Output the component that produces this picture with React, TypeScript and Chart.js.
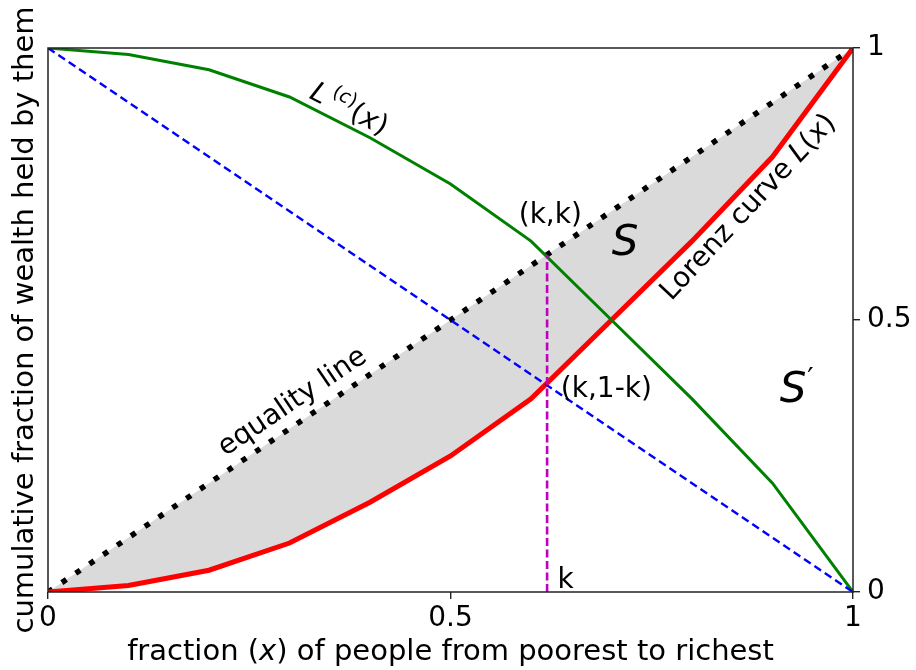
import React, { useEffect, useRef } from 'react';
import { Chart, registerables } from 'chart.js';

Chart.register(...registerables);

// ---- data ----
const xValues = [0, 0.1, 0.2, 0.3, 0.4, 0.5, 0.6, 0.7, 0.8, 0.9, 1];
const lorenzValues = [0, 0.012, 0.04, 0.09, 0.165, 0.25, 0.355, 0.5, 0.645, 0.8, 1];
const complementValues = [1, 0.988, 0.96, 0.91, 0.835, 0.75, 0.645, 0.5, 0.355, 0.2, 0];
const equalityValues = [0, 0.1, 0.2, 0.3, 0.4, 0.5, 0.6, 0.7, 0.8, 0.9, 1];
const antiDiagX = [0, 1];
const antiDiagY = [1, 0];
const kValue = 0.62;
const kLineY = [0, 0.62];
const tickValues = [0, 0.5, 1];
const tickLabels = ['0', '0.5', '1'];

const FONT = '"DejaVu Sans", "Liberation Sans", sans-serif';
const f = (size: number, style = '') => `${style} ${size}px ${FONT}`.trim();

type Seg = { t: string; f: string; dy?: number; gap?: number };

function drawRich(
  ctx: CanvasRenderingContext2D,
  segs: Seg[],
  cx: number,
  cy: number,
  angleDeg: number,
  yOff: number,
  align: 'center' | 'left' = 'center'
) {
  ctx.save();
  ctx.translate(cx, cy);
  ctx.rotate((angleDeg * Math.PI) / 180);
  ctx.textBaseline = 'alphabetic';
  ctx.textAlign = 'left';
  ctx.fillStyle = '#000';
  const widths = segs.map((s) => {
    ctx.font = s.f;
    return ctx.measureText(s.t).width + (s.gap || 0);
  });
  const total = widths.reduce((a, b) => a + b, 0);
  let xx = align === 'center' ? -total / 2 : 0;
  segs.forEach((s, i) => {
    ctx.font = s.f;
    ctx.fillText(s.t, xx, yOff + (s.dy || 0));
    xx += widths[i];
  });
  ctx.restore();
}

const annotPlugin = {
  id: 'annot',
  afterDatasetsDraw(chart: any) {
    const { ctx, chartArea: a } = chart;
    const x = chart.scales.x;
    const y = chart.scales.y;
    const px = (v: number) => x.getPixelForValue(v);
    const py = (v: number) => y.getPixelForValue(v);

    // frame
    ctx.save();
    ctx.strokeStyle = '#222';
    ctx.lineWidth = 1.5;
    ctx.strokeRect(a.left, a.top, a.right - a.left, a.bottom - a.top);
    ctx.restore();

    const T = 28;
    // L^(c)(x)
    drawRich(
      ctx,
      [
        { t: 'L', f: f(T, 'italic'), gap: 4 },
        { t: '(', f: f(19), dy: -12 },
        { t: 'c', f: f(19, 'italic'), dy: -12 },
        { t: ')', f: f(19), dy: -12 },
        { t: '(', f: f(T) },
        { t: 'x', f: f(T, 'italic') },
        { t: ')', f: f(T) },
      ],
      px(0.375),
      py(0.89),
      27,
      10
    );
    // (k,k)
    drawRich(ctx, [{ t: '(k,k)', f: f(T) }], px(0.624), py(0.697), 0, 10);
    // S
    drawRich(ctx, [{ t: 'S', f: f(42, 'italic') }], px(0.717), py(0.647), 0, 15);
    // Lorenz curve L(x)
    drawRich(
      ctx,
      [
        { t: 'Lorenz curve ', f: f(T) },
        { t: 'L', f: f(T, 'italic') },
        { t: '(', f: f(T) },
        { t: 'x', f: f(T, 'italic') },
        { t: ')', f: f(T) },
      ],
      px(0.868),
      py(0.71),
      -47,
      10
    );
    // equality line
    drawRich(ctx, [{ t: 'equality line', f: f(T) }], px(0.302), py(0.353), -34, 10);
    // (k,1-k)
    drawRich(ctx, [{ t: '(k,1-k)', f: f(T) }], px(0.637), py(0.377), 0, 10, 'left');
    // S'
    drawRich(
      ctx,
      [
        { t: 'S', f: f(42, 'italic'), gap: 1 },
        { t: '\u2032', f: f(28), dy: -14 },
      ],
      px(0.93),
      py(0.377),
      0,
      15
    );
    // k
    drawRich(ctx, [{ t: 'k', f: f(T) }], px(0.643), py(0.026), 0, 10);
  },
  afterDraw(chart: any) {
    const { ctx, chartArea: a } = chart;
    const T = 29;
    drawRich(
      ctx,
      [
        { t: 'fraction (', f: f(T) },
        { t: 'x', f: f(T, 'italic') },
        { t: ') of people from poorest to richest', f: f(T) },
      ],
      (a.left + a.right) / 2,
      660,
      0,
      0
    );
    drawRich(
      ctx,
      [{ t: 'cumulative fraction of wealth held by them', f: f(T) }],
      33,
      (a.top + a.bottom) / 2,
      -90,
      0
    );
  },
};

const pts = (xs: number[], ys: number[]) => xs.map((v, i) => ({ x: v, y: ys[i] }));

export default function App() {
  const ref = useRef<HTMLCanvasElement | null>(null);

  useEffect(() => {
    if (!ref.current) return;
    const tickFont = { family: FONT, size: 28 };
    const chart = new Chart(ref.current, {
      type: 'line',
      data: {
        datasets: [
          {
            label: 'equality',
            data: pts(xValues, equalityValues),
            borderColor: '#000',
            borderWidth: 5.5,
            borderDash: [5.5, 11.2],
            borderCapStyle: 'butt',
            pointRadius: 0,
            fill: false,
            tension: 0,
            order: 5,
          },
          {
            label: 'lorenz',
            data: pts(xValues, lorenzValues),
            borderColor: '#ff0000',
            borderWidth: 5,
            backgroundColor: '#dadada',
            pointRadius: 0,
            fill: 0,
            tension: 0,
            order: 4,
          },
          {
            label: 'complement',
            data: pts(xValues, complementValues),
            borderColor: '#008000',
            borderWidth: 3,
            pointRadius: 0,
            fill: false,
            tension: 0,
            order: 3,
          },
          {
            label: 'antidiag',
            data: pts(antiDiagX, antiDiagY),
            borderColor: '#0000ff',
            borderWidth: 2.4,
            borderDash: [8, 4.5],
            pointRadius: 0,
            fill: false,
            tension: 0,
            order: 2,
          },
          {
            label: 'k',
            data: pts([kValue, kValue], kLineY),
            borderColor: '#bf00bf',
            borderWidth: 2.6,
            borderDash: [8, 3.5],
            pointRadius: 0,
            fill: false,
            tension: 0,
            order: 1,
          },
        ],
      },
      options: {
        responsive: false,
        animation: false,
        devicePixelRatio: 1,
        layout: { padding: 0 },
        plugins: {
          legend: { display: false },
          tooltip: { enabled: false },
          filler: { drawTime: 'beforeDatasetsDraw' },
        },
        scales: {
          x: {
            type: 'linear',
            position: 'bottom',
            min: 0,
            max: 1,
            afterBuildTicks: (s: any) => {
              s.ticks = tickValues.map((v) => ({ value: v }));
            },
            afterFit: (s: any) => {
              s.height = 78;
            },
            ticks: {
              font: tickFont,
              color: '#000',
              padding: 3,
              maxRotation: 0,
              autoSkip: false,
              callback: (v: any) => tickLabels[tickValues.indexOf(Number(v))] ?? '',
            },
            grid: {
              display: true,
              drawOnChartArea: false,
              drawTicks: true,
              tickLength: 7,
              color: '#222',
              lineWidth: 1.4,
            },
            border: { display: false },
          },
          y: {
            type: 'linear',
            position: 'right',
            min: 0,
            max: 1,
            afterBuildTicks: (s: any) => {
              s.ticks = tickValues.map((v) => ({ value: v }));
            },
            afterFit: (s: any) => {
              s.width = 63;
            },
            ticks: {
              font: tickFont,
              color: '#000',
              padding: 7,
              autoSkip: false,
              callback: (v: any) => tickLabels[tickValues.indexOf(Number(v))] ?? '',
            },
            grid: {
              display: true,
              drawOnChartArea: false,
              drawTicks: true,
              tickLength: 7,
              color: '#222',
              lineWidth: 1.4,
            },
            border: { display: false },
          },
          yl: {
            type: 'linear',
            position: 'left',
            display: true,
            ticks: { display: false },
            grid: { display: false },
            border: { display: false },
            afterFit: (s: any) => {
              s.width = 48;
            },
          },
          xt: {
            type: 'linear',
            position: 'top',
            display: true,
            ticks: { display: false },
            grid: { display: false },
            border: { display: false },
            afterFit: (s: any) => {
              s.height = 48;
            },
          },
        },
      } as any,
      plugins: [annotPlugin],
    });
    return () => chart.destroy();
  }, []);

  return (
    <div style={{ position: 'absolute', left: 0, top: 0, width: 916, height: 670, background: '#fff' }}>
      <canvas ref={ref} width={916} height={670} style={{ display: 'block' }} />
    </div>
  );
}
